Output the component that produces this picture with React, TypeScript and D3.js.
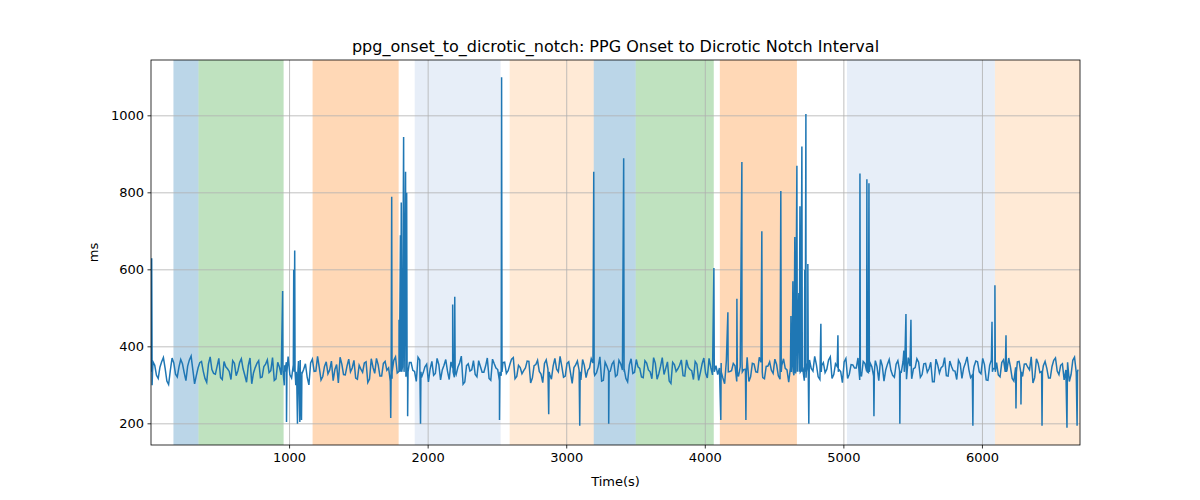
import React from 'react';
import * as d3 from 'd3';

// shaded segments: [start, end, color, opacity]
const spans: [number, number, string, number][] = [
  [162, 343, '#1f77b4', 0.3],
  [343, 957, '#2ca02c', 0.3],
  [1166, 1787, '#ff7f0e', 0.3],
  [1903, 2523, '#aec7e8', 0.3],
  [2588, 3195, '#ffbb78', 0.3],
  [3195, 3498, '#1f77b4', 0.3],
  [3498, 4061, '#2ca02c', 0.3],
  [4105, 4661, '#ff7f0e', 0.3],
  [5022, 6090, '#aec7e8', 0.3],
  [6090, 6704, '#ffbb78', 0.3],
];

// baseline samples, one every 25 s
const baseStep = 25;
const baselineA = [
  335, 352, 318, 361, 344, 302, 371, 329, 348, 356, 312, 366, 340, 325, 359, 337, 308, 374, 331, 349,
  320, 362, 343, 315, 357, 338, 369, 326, 351, 304, 346, 364, 322, 355, 333, 372, 317, 347, 339, 360,
  328, 353, 310, 366, 342, 321, 358, 336, 375, 314, 349, 330, 363, 341, 306, 355, 327, 368, 345, 319,
  352, 334, 361, 316, 347, 370, 324, 357, 339, 311, 365, 332, 350, 343, 318, 359, 336, 373, 320, 348,
  309, 362, 331, 354, 340, 367, 315, 345, 328, 358, 303, 351, 337, 364, 322, 349, 334, 371, 313, 356,
  341, 325, 360, 338, 368, 317, 352, 330, 345, 362, 319, 354, 336, 307, 366, 329, 350, 342, 375, 321,
  357, 333, 346, 363, 314, 352, 339, 369, 326, 348, 311, 360, 337, 355, 323, 365, 340, 318, 353, 331,
  367, 344, 320, 358, 335, 372, 316, 349, 328, 361, 305, 354, 343, 366, 324, 347, 338, 362, 313, 356,
  332, 370, 327, 351, 345, 319, 364, 336, 357, 310, 348, 341, 373, 322, 355, 334, 360, 317, 350, 339,
  368, 325, 352, 344, 308, 363, 331, 356, 347, 320, 366, 337, 353, 315, 359, 342, 374, 328, 349, 336,
  361, 318, 354, 345, 371, 323, 357, 333, 348, 364, 312, 351, 340, 367, 326, 355, 338, 362, 316, 350,
  343, 369, 321, 356, 334, 360, 309, 353, 346, 372, 324, 349, 337, 365, 318, 358, 341, 327, 363, 335,
  370, 314, 352, 344, 359, 322, 366, 339, 348, 311, 361, 333, 355, 347, 374, 320, 357, 336, 362, 319,
  349, 371, 328, 356, 340, 310, 365, 333,
];
// second set of baseline samples, offset by half a step
const baselineB = [
  361, 326, 347, 372, 311, 339, 358, 322, 367, 333, 350, 376, 304, 345, 362, 318, 355, 341, 329, 370,
  315, 348, 336, 364, 325, 359, 343, 308, 371, 332, 357, 320, 349, 366, 338, 313, 360, 327, 352, 375,
  319, 344, 363, 330, 356, 301, 368, 337, 346, 323, 361, 340, 312, 354, 373, 328, 350, 335, 365, 316,
  342, 358, 307, 369, 331, 353, 324, 362, 345, 317, 374, 336, 348, 322, 359, 339, 310, 366, 333, 355,
  343, 326, 370, 314, 352, 337, 361, 321, 347, 376, 309, 356, 340, 328, 364, 334, 350, 318, 368, 345,
  312, 359, 331, 354, 372, 323, 346, 338, 363, 306, 351, 365, 329, 357, 342, 316, 370, 335, 349, 324,
  361, 305, 353, 339, 367, 320, 345, 358, 332, 374, 313, 350, 337, 362, 327, 356, 343, 309, 369, 334,
  348, 322, 364, 340, 317, 357, 330, 372, 344, 311, 360, 336, 352, 325, 366, 341, 315, 355, 333, 371,
  319, 347, 362, 328, 358, 304, 368, 338, 351, 323, 365, 342, 310, 357, 335, 373, 320, 349, 361, 331,
  354, 316, 369, 340, 346, 326, 363, 337, 312, 359, 344, 375, 322, 351, 333, 366, 318, 356, 341, 307,
  370, 329, 353, 345, 314, 362, 336, 358, 324, 348, 367, 311, 355, 339, 321, 364, 334, 352, 372, 317,
  346, 360, 328, 357, 343, 309, 368, 332, 350, 325, 363, 338, 315, 356, 345, 374, 320, 349, 361, 330,
  354, 313, 366, 342, 327, 359, 335, 371, 318, 347, 362, 323, 356, 340, 306, 369, 333, 351, 344, 319,
  365, 337, 352, 314, 360, 328, 373, 341,
];

// spikes and dips: [time, value]
const spikes: [number, number][] = [
  [5, 630], [8, 300], [950, 545], [962, 300], [978, 205], [1030, 600], [1037, 650], [1045, 300],
  [1057, 200], [1074, 205], [1086, 210], [1730, 215], [1737, 790], [1790, 470], [1800, 690],
  [1806, 775], [1823, 945], [1837, 855], [1845, 800], [1852, 220], [1945, 200], [2177, 510],
  [2192, 530], [2515, 210], [2530, 1100], [2870, 225], [3094, 195], [3195, 855], [3303, 200],
  [3411, 890], [4062, 605], [4112, 210], [4163, 490], [4228, 525], [4264, 880], [4293, 210],
  [4408, 700], [4545, 805], [4618, 480], [4632, 570], [4646, 685], [4661, 870], [4675, 540],
  [4683, 765], [4697, 920], [4718, 600], [4726, 1005], [4740, 615], [4747, 200], [4834, 460],
  [4957, 430], [5116, 850], [5166, 835], [5181, 825], [5217, 220], [5404, 200], [5433, 390],
  [5448, 485], [5484, 470], [5931, 195], [6069, 465], [6090, 560], [6170, 430], [6242, 240],
  [6278, 250], [6430, 195], [6610, 190], [6683, 195],
];

const xTicks = [1000, 2000, 3000, 4000, 5000, 6000];
const yTicks = [200, 400, 600, 800, 1000];

export default function App() {
  const W = 1200, H = 500;
  const m = { left: 151, right: 1080, top: 60, bottom: 445 };
  const x = d3.scaleLinear().domain([0, 6704]).range([m.left, m.right]);
  const y = d3.scaleLinear().domain([145, 1145]).range([m.bottom, m.top]);

  const pts: [number, number][] = [];
  baselineA.forEach((v, i) => pts.push([i * baseStep + 2, v]));
  baselineB.forEach((v, i) => pts.push([i * baseStep + 14.5, v]));
  spikes.forEach(s => {
    pts.push(s);
    pts.push([s[0] + 3, 335]);
  });
  pts.sort((a, b) => a[0] - b[0]);

  const line = d3.line<[number, number]>().x(d => x(d[0])).y(d => y(d[1]));
  const font = 'DejaVu Sans, sans-serif';

  return (
    <svg width={W} height={H} style={{ display: 'block', margin: -8 }} fontFamily={font}>
      <rect width={W} height={H} fill="#fff" />
      <defs>
        <clipPath id="plot">
          <rect x={m.left} y={m.top} width={m.right - m.left} height={m.bottom - m.top} />
        </clipPath>
      </defs>
      {spans.map(([a, b, c, o], i) => (
        <rect key={i} x={x(a)} y={m.top} width={x(b) - x(a)} height={m.bottom - m.top} fill={c} opacity={o} />
      ))}
      {xTicks.map(t => (
        <line key={t} x1={x(t)} x2={x(t)} y1={m.top} y2={m.bottom} stroke="#b0b0b0" strokeWidth={0.8} />
      ))}
      {yTicks.map(t => (
        <line key={t} x1={m.left} x2={m.right} y1={y(t)} y2={y(t)} stroke="#b0b0b0" strokeWidth={0.8} />
      ))}
      <path d={line(pts) ?? ''} fill="none" stroke="#1f77b4" strokeWidth={1.5} clipPath="url(#plot)" />
      <rect x={m.left} y={m.top} width={m.right - m.left} height={m.bottom - m.top} fill="none" stroke="#000" strokeWidth={0.8} />
      {xTicks.map(t => (
        <g key={t}>
          <line x1={x(t)} x2={x(t)} y1={m.bottom} y2={m.bottom + 3.5} stroke="#000" strokeWidth={0.8} />
          <text x={x(t)} y={m.bottom + 17} textAnchor="middle" fontSize={13}>{t}</text>
        </g>
      ))}
      {yTicks.map(t => (
        <g key={t}>
          <line x1={m.left - 3.5} x2={m.left} y1={y(t)} y2={y(t)} stroke="#000" strokeWidth={0.8} />
          <text x={m.left - 7} y={y(t) + 4.5} textAnchor="end" fontSize={13}>{t}</text>
        </g>
      ))}
      <text x={(m.left + m.right) / 2} y={486} textAnchor="middle" fontSize={13}>Time(s)</text>
      <text transform={`translate(98,${(m.top + m.bottom) / 2}) rotate(-90)`} textAnchor="middle" fontSize={13}>ms</text>
      <text x={(m.left + m.right) / 2} y={52} textAnchor="middle" fontSize={16}>ppg_onset_to_dicrotic_notch: PPG Onset to Dicrotic Notch Interval</text>
    </svg>
  );
}
